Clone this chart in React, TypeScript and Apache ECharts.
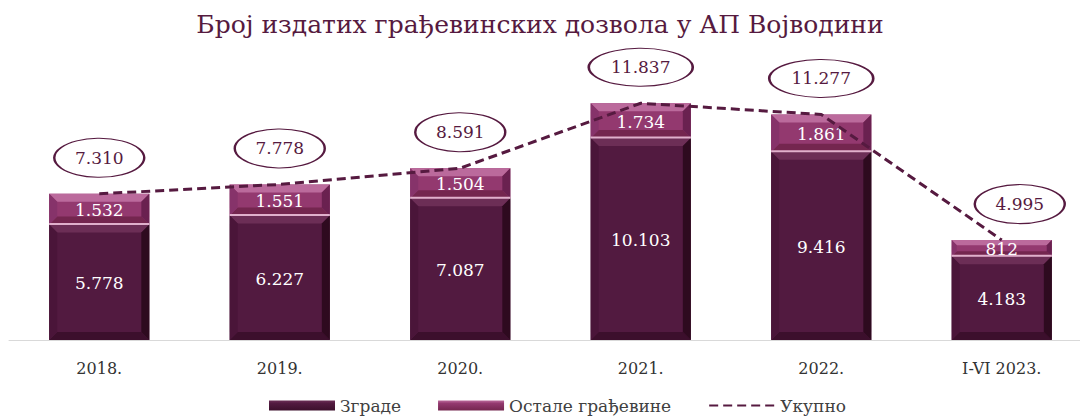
import React, { useEffect, useRef } from "react";
import * as echarts from "echarts";

const categories = ["2018.", "2019.", "2020.", "2021.", "2022.", "I-VI 2023."];
const buildings = [5778, 6227, 7087, 10103, 9416, 4183];
const otherWorks = [1532, 1551, 1504, 1734, 1861, 812];
const totals = [7310, 7778, 8591, 11837, 11277, 4995];

const SERIES_BUILDINGS = "Зграде";
const SERIES_OTHER = "Остале грађевине";
const SERIES_TOTAL = "Укупно";
const TITLE = "Број издатих грађевинских дозвола у АП Војводини";

const FONT = "'DejaVu Serif', 'Liberation Serif', serif";
const WINE = "#561a40";

const fmt = (n: number) => String(n).replace(/\B(?=(\d{3})+(?!\d))/g, ".");

type Palette = { main: string; top: string; bottom: string; left: string; right: string; sep?: string };
const darkPal: Palette = { main: "#521a40", top: "#6c2e56", bottom: "#3c0f2c", left: "#4a1539", right: "#2e0a1f" };
const pinkPal: Palette = { main: "#93396f", top: "#bb6a9c", bottom: "#74264f", left: "#86336a", right: "#6a2150", sep: "#e0b0cc" };

function bevelRenderer(pal: Palette, labels: number[]) {
  return (params: any, api: any) => {
    const x = api.value(0);
    const p0 = api.coord([x, api.value(1)]);
    const p1 = api.coord([x, api.value(2)]);
    const w = api.size([1, 0])[0] * 0.555;
    const l = p0[0] - w / 2;
    const r = p0[0] + w / 2;
    const t = p1[1];
    const b = p0[1];
    const h = b - t;
    const bv = Math.min(8, h / 3.2);
    const children: any[] = [
      { type: "rect", shape: { x: l, y: t, width: w, height: h }, style: { fill: pal.main } },
      { type: "polygon", shape: { points: [[l, t], [r, t], [r - bv, t + bv], [l + bv, t + bv]] }, style: { fill: pal.top } },
      { type: "polygon", shape: { points: [[l, b], [r, b], [r - bv, b - bv], [l + bv, b - bv]] }, style: { fill: pal.bottom } },
      { type: "polygon", shape: { points: [[l, t], [l + bv, t + bv], [l + bv, b - bv], [l, b]] }, style: { fill: pal.left } },
      { type: "polygon", shape: { points: [[r, t], [r - bv, t + bv], [r - bv, b - bv], [r, b]] }, style: { fill: pal.right } },
    ];
    if (pal.sep) {
      children.push({ type: "rect", shape: { x: l, y: b - 1.5, width: w, height: 2 }, style: { fill: pal.sep } });
    }
    children.push({
      type: "text",
      style: {
        text: fmt(labels[params.dataIndex]),
        x: p0[0],
        y: t + h / 2 + 1,
        align: "center",
        verticalAlign: "middle",
        fill: "#ffffff",
        font: `17px ${FONT}`,
      },
    });
    return { type: "group", children };
  };
}

export default function App() {
  const ref = useRef<HTMLDivElement>(null);
  useEffect(() => {
    if (!ref.current) return;
    const chart = echarts.init(ref.current, null, { renderer: "svg" });
    const darkData = buildings.map((v, i) => [i, 0, v]);
    const pinkData = otherWorks.map((v, i) => [i, buildings[i], buildings[i] + v]);
    const ellipseData = totals.map((v, i) => {
      const wide = fmt(v).length > 5;
      return {
        value: [i, v],
        symbolSize: wide ? [104, 38] : [90, 39],
        symbolOffset: i === categories.length - 1 ? [18, -36] : [0, -36],
      };
    });
    chart.setOption({
      animation: false,
      title: {
        text: TITLE,
        left: "center",
        top: 7,
        textStyle: { fontFamily: FONT, fontSize: 25, fontWeight: "normal", color: WINE },
      },
      grid: { left: 9, width: 1083, top: 100, bottom: 79, containLabel: false, outerBoundsMode: "none" },
      legend: {
        bottom: 0,
        left: 264,
        itemWidth: 66,
        itemHeight: 10,
        itemGap: 37,
        textStyle: { fontFamily: FONT, fontSize: 17, color: "#404040" },
        data: [
          {
            name: SERIES_BUILDINGS,
            icon: "rect",
            itemStyle: {
              color: new echarts.graphic.LinearGradient(0, 0, 0, 1, [
                { offset: 0, color: "#6c2e56" },
                { offset: 0.3, color: "#521a40" },
                { offset: 1, color: "#3c0f2c" },
              ]),
            },
          },
          {
            name: SERIES_OTHER,
            icon: "rect",
            itemStyle: {
              color: new echarts.graphic.LinearGradient(0, 0, 0, 1, [
                { offset: 0, color: "#bb6a9c" },
                { offset: 0.3, color: "#93396f" },
                { offset: 1, color: "#74264f" },
              ]),
            },
          },
          { name: SERIES_TOTAL, itemStyle: { opacity: 0 } },
        ],
      },
      xAxis: {
        type: "category",
        data: categories,
        boundaryGap: true,
        axisLine: { lineStyle: { color: "#d9d9d9", width: 1 } },
        axisTick: { show: false },
        axisLabel: { fontFamily: FONT, fontSize: 16, color: "#333", margin: 20 },
      },
      yAxis: { type: "value", min: 0, max: 12000, show: false, splitLine: { show: false } },
      series: [
        {
          name: SERIES_BUILDINGS,
          type: "custom",
          renderItem: bevelRenderer(darkPal, buildings),
          data: darkData,
          encode: { x: 0, y: [1, 2] },
          z: 2,
        },
        {
          name: SERIES_OTHER,
          type: "custom",
          renderItem: bevelRenderer(pinkPal, otherWorks),
          data: pinkData,
          encode: { x: 0, y: [1, 2] },
          z: 2,
        },
        {
          name: SERIES_TOTAL,
          type: "line",
          data: totals,
          symbol: "none",
          lineStyle: { color: WINE, width: 3, type: [9, 5] },
          itemStyle: { color: WINE },
          z: 5,
        },
        {
          name: "ellipses",
          type: "scatter",
          data: ellipseData,
          symbol: "circle",
          itemStyle: { color: "#ffffff", borderColor: WINE, borderWidth: 1.6, opacity: 1 },
          label: {
            show: true,
            position: "inside",
            formatter: (p: any) => fmt(p.value[1]),
            fontFamily: FONT,
            fontSize: 17,
            color: WINE,
          },
          z: 6,
          silent: true,
        },
      ],
    });
    return () => chart.dispose();
  }, []);
  return (
    <div
      ref={ref}
      style={{ position: "fixed", left: 0, top: 0, width: 1080, height: 419, background: "#fff" }}
    />
  );
}
